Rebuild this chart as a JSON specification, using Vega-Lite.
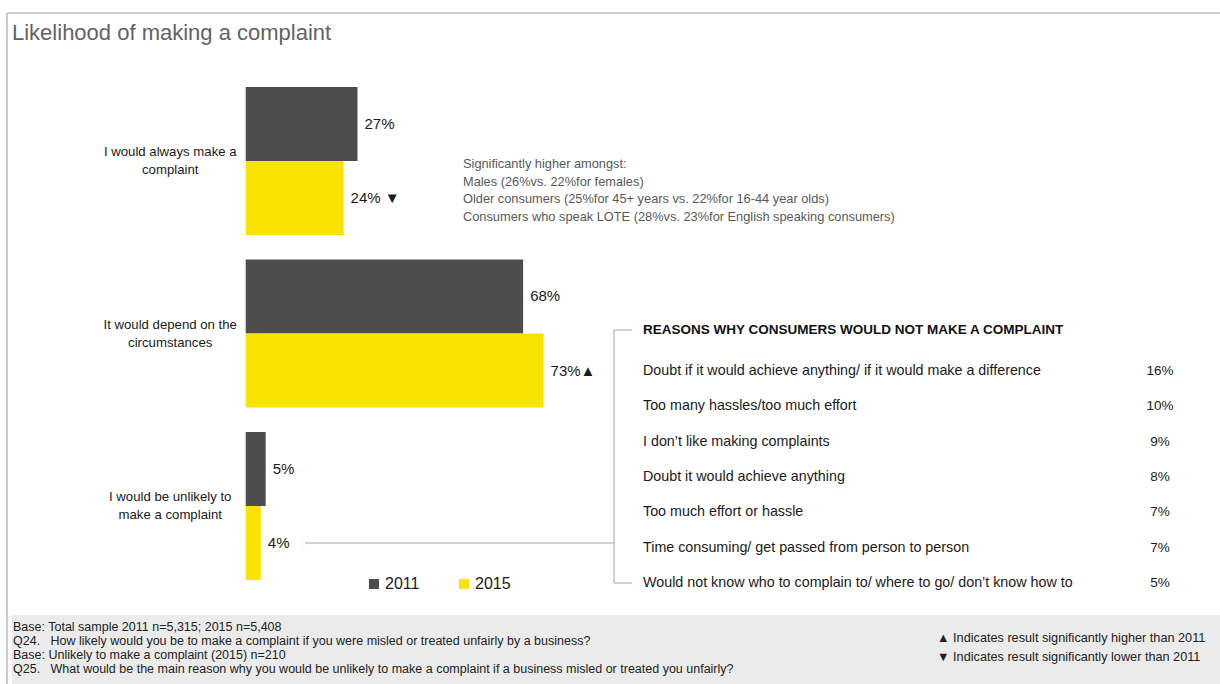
{
  "$schema": "https://vega.github.io/schema/vega-lite/v6.json",
  "width": 1220,
  "height": 684,
  "autosize": {"type": "none"},
  "padding": 0,
  "background": "white",
  "config": {"view": {"stroke": null}, "font": "Liberation Sans"},
  "datasets": {
    "bars": [
      {"cat": "I would always make a\ncomplaint", "year": "2011", "value": 27.4, "label": "27%"},
      {"cat": "I would always make a\ncomplaint", "year": "2015", "value": 24.0, "label": "24% ▼"},
      {"cat": "It would depend on the\ncircumstances", "year": "2011", "value": 68.0, "label": "68%"},
      {"cat": "It would depend on the\ncircumstances", "year": "2015", "value": 73.0, "label": "73%▲"},
      {"cat": "I would be unlikely to\nmake a complaint", "year": "2011", "value": 4.9, "label": "5%"},
      {"cat": "I would be unlikely to\nmake a complaint", "year": "2015", "value": 3.7, "label": "4%"}
    ],
    "reasons": [
      {"reason": "Doubt if it would achieve anything/ if it would make a difference", "label": "16%"},
      {"reason": "Too many hassles/too much effort", "label": "10%"},
      {"reason": "I don’t like making complaints", "label": "9%"},
      {"reason": "Doubt it would achieve anything", "label": "8%"},
      {"reason": "Too much effort or hassle", "label": "7%"},
      {"reason": "Time consuming/ get passed from person to person", "label": "7%"},
      {"reason": "Would not know who to complain to/ where to go/ don’t know how to", "label": "5%"}
    ]
  },
  "layer": [
    {
      "data": {"values": [{}]},
      "layer": [
        {"mark": {"type": "rect", "fill": "#ebebeb"}, "encoding": {"x": {"value": 12}, "x2": {"value": 1220}, "y": {"value": 615}, "y2": {"value": 684}}},
        {"mark": {"type": "rule", "stroke": "#bdbdbd", "strokeWidth": 1.5}, "encoding": {"x": {"value": 7}, "x2": {"value": 1220}, "y": {"value": 13}, "y2": {"value": 13}}},
        {"mark": {"type": "rule", "stroke": "#bdbdbd", "strokeWidth": 1.5}, "encoding": {"x": {"value": 7}, "x2": {"value": 7}, "y": {"value": 13}, "y2": {"value": 684}}},
        {"mark": {"type": "rule", "stroke": "#a6a6a6", "strokeWidth": 1}, "encoding": {"x": {"value": 305}, "x2": {"value": 614}, "y": {"value": 543}, "y2": {"value": 543}}},
        {"mark": {"type": "rule", "stroke": "#a6a6a6", "strokeWidth": 1}, "encoding": {"x": {"value": 614}, "x2": {"value": 614}, "y": {"value": 330}, "y2": {"value": 583}}},
        {"mark": {"type": "rule", "stroke": "#a6a6a6", "strokeWidth": 1}, "encoding": {"x": {"value": 614}, "x2": {"value": 632}, "y": {"value": 330}, "y2": {"value": 330}}},
        {"mark": {"type": "rule", "stroke": "#a6a6a6", "strokeWidth": 1}, "encoding": {"x": {"value": 614}, "x2": {"value": 632}, "y": {"value": 583}, "y2": {"value": 583}}},
        {"mark": {"type": "text", "align": "left", "baseline": "middle", "fontSize": 22, "color": "#636363", "text": "Likelihood of making a complaint"}, "encoding": {"x": {"value": 12}, "y": {"value": 33}}},
        {"mark": {"type": "text", "align": "left", "baseline": "middle", "fontSize": 12.8, "color": "#595959", "lineBreak": "\n", "lineHeight": 17.7, "text": "Significantly higher amongst:\nMales (26%vs. 22%for females)\nOlder consumers (25%for 45+ years vs. 22%for 16-44 year olds)\nConsumers who speak LOTE (28%vs. 23%for English speaking consumers)"}, "encoding": {"x": {"value": 463}, "y": {"value": 164}}},
        {"mark": {"type": "text", "align": "left", "baseline": "middle", "fontSize": 13.5, "fontWeight": "bold", "color": "#111111", "text": "REASONS WHY CONSUMERS WOULD NOT MAKE A COMPLAINT"}, "encoding": {"x": {"value": 643}, "y": {"value": 330}}},
        {"mark": {"type": "text", "align": "left", "baseline": "middle", "fontSize": 12.5, "color": "#222222", "lineBreak": "\n", "lineHeight": 14, "text": "Base: Total sample 2011 n=5,315; 2015 n=5,408\nQ24.\u00a0\u00a0 How likely would you be to make a complaint if you were misled or treated unfairly by a business?\nBase: Unlikely to make a complaint (2015) n=210\nQ25.\u00a0\u00a0 What would be the main reason why you would be unlikely to make a complaint if a business misled or treated you unfairly?"}, "encoding": {"x": {"value": 13}, "y": {"value": 627}}},
        {"mark": {"type": "text", "align": "left", "baseline": "middle", "fontSize": 12.7, "color": "#222222", "lineBreak": "\n", "lineHeight": 19, "text": "▲ Indicates result significantly higher than 2011\n▼ Indicates result significantly lower than 2011"}, "encoding": {"x": {"value": 937}, "y": {"value": 638}}}
      ]
    },
    {
      "data": {"name": "bars"},
      "layer": [
        {
          "mark": {"type": "bar"},
          "encoding": {
            "y": {"field": "cat", "type": "nominal", "axis": null, "sort": null,
                  "scale": {"domain": ["I would always make a\ncomplaint", "It would depend on the\ncircumstances", "I would be unlikely to\nmake a complaint"], "paddingInner": 0.142, "paddingOuter": 0.5536, "align": 0.4555}},
            "yOffset": {"field": "year", "type": "nominal", "sort": null, "scale": {"domain": ["2011", "2015"], "paddingInner": 0, "paddingOuter": 0}},
            "x": {"field": "value", "type": "quantitative", "axis": null, "stack": null, "scale": {"domain": [-60.22, 238.8], "nice": false}},
            "color": {"field": "year", "type": "nominal", "scale": {"domain": ["2011", "2015"], "range": ["#4d4d4d", "#f9e300"]},
                      "legend": {"orient": "none", "legendX": 366, "legendY": 576, "direction": "horizontal", "title": null, "symbolType": "square", "symbolSize": 100, "symbolStrokeWidth": 0, "labelFontSize": 16, "labelColor": "#1a1a1a", "labelFont": "Liberation Sans", "columnPadding": 36, "labelOffset": 3}}
          }
        },
        {
          "mark": {"type": "text", "align": "left", "baseline": "middle", "dx": 7, "fontSize": 15, "color": "#1a1a1a"},
          "encoding": {
            "y": {"field": "cat", "type": "nominal", "sort": null},
            "yOffset": {"field": "year", "type": "nominal", "sort": null},
            "x": {"field": "value", "type": "quantitative", "stack": null},
            "text": {"field": "label"}
          }
        },
        {
          "transform": [{"filter": "datum.year == '2011'"}],
          "mark": {"type": "text", "align": "center", "baseline": "middle", "fontSize": 13.2, "color": "#1a1a1a", "lineBreak": "\n", "lineHeight": 18, "dy": -9},
          "encoding": {
            "y": {"field": "cat", "type": "nominal", "sort": null},
            "x": {"datum": -18.5, "type": "quantitative"},
            "text": {"field": "cat"}
          }
        }
      ]
    },
    {
      "data": {"name": "reasons"},
      "layer": [
        {
          "mark": {"type": "text", "align": "left", "baseline": "middle", "fontSize": 14.3, "color": "#1a1a1a"},
          "encoding": {
            "x": {"value": 643},
            "y": {"field": "reason", "type": "nominal", "axis": null, "sort": null, "scale": {"type": "point", "range": [371, 583], "padding": 0}},
            "text": {"field": "reason"}
          }
        },
        {
          "mark": {"type": "text", "align": "center", "baseline": "middle", "fontSize": 13.5, "color": "#1a1a1a"},
          "encoding": {
            "x": {"value": 1160},
            "y": {"field": "reason", "type": "nominal", "sort": null},
            "text": {"field": "label"}
          }
        }
      ]
    }
  ],
  "resolve": {"scale": {"x": "independent", "y": "independent", "color": "independent", "yOffset": "independent"}}
}
